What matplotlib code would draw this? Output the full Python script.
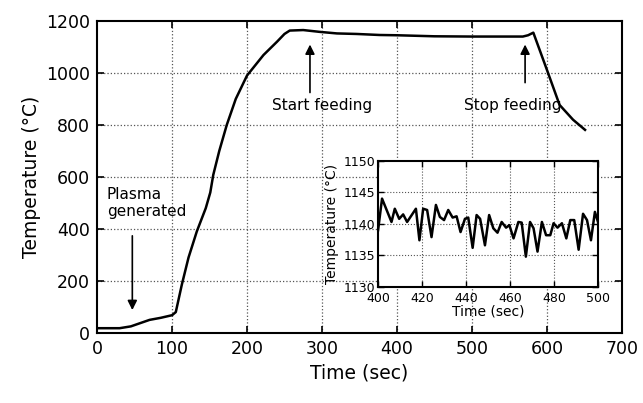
import matplotlib
matplotlib.use("Agg")
import matplotlib.pyplot as plt

plt.rcParams.update({
    "font.family": "DejaVu Sans",
    "xtick.direction": "in",
    "ytick.direction": "in",
    "xtick.top": True,
    "ytick.right": True,
})

# ── main curve ──
t_main = [0, 30, 45, 70, 85, 100, 105, 113, 122, 133, 145, 151, 155, 163, 173,
          185, 200, 222, 240, 250, 257, 275, 297, 320, 346, 377, 400, 450, 500,
          540, 568, 575, 582, 600, 617, 635, 651]
T_main = [18, 18, 25, 50, 58, 68, 80, 185, 290, 390, 480, 540, 608, 700, 800,
          900, 990, 1069, 1120, 1150, 1163, 1165, 1158, 1152, 1150, 1146, 1145,
          1141, 1140, 1140, 1140, 1145, 1155, 1013, 877, 820, 781]

# ── inset: zoom 400-500 s ──
t_zoom = [400, 401.8, 406.1, 407.6, 409.6, 411.4, 413.2, 417.2, 418.8, 420.5,
          422.3, 424.3, 426.3, 428.1, 430, 431.9, 433.9, 435.7, 437.5, 439.5,
          441.0, 443.0, 444.8, 446.4, 448.6, 450.5, 452.4, 454.3, 456.2, 458.2,
          459.7, 461.6, 463.8, 465.3, 467.2, 469.1, 470.7, 472.5, 474.5, 476.4,
          478.3, 479.8, 481.6, 483.6, 485.6, 487.4, 489.2, 491.2, 493.2, 495,
          496.8, 498.6, 500]
T_zoom = [1139.0, 1144.0, 1140.3, 1142.4, 1140.8, 1141.5, 1140.3, 1142.4, 1137.4,
          1142.4, 1142.2, 1137.9, 1143.0, 1141.1, 1140.6, 1142.2, 1141.0, 1141.2,
          1138.7, 1140.8, 1141.0, 1136.2, 1141.4, 1140.8, 1136.6, 1141.4, 1139.3,
          1138.6, 1140.3, 1139.4, 1139.8, 1137.7, 1140.3, 1140.2, 1134.8, 1140.3,
          1139.3, 1135.6, 1140.3, 1138.2, 1138.2, 1140.1, 1139.4, 1140.1, 1137.7,
          1140.6, 1140.6, 1135.9, 1141.6, 1140.6, 1137.4, 1141.9, 1140.3]

fig = plt.figure(figsize=(6.43, 4.03), dpi=100)
ax = fig.add_axes([0.151, 0.174, 0.816, 0.774])

ax.plot(t_main, T_main, color="black", linewidth=1.8)
ax.set_xlim(0, 700)
ax.set_ylim(0, 1200)
ax.set_xticks(range(0, 701, 100))
ax.set_yticks(range(0, 1201, 200))
ax.tick_params(labelsize=12.5, length=5, width=1.2, pad=5)
for s in ax.spines.values():
    s.set_linewidth(1.5)
for x in range(100, 700, 100):
    ax.axvline(x, color="#555555", linestyle=":", linewidth=0.9, zorder=0)
for y in range(200, 1200, 200):
    ax.axhline(y, color="#555555", linestyle=":", linewidth=0.9, zorder=0)
ax.set_xlabel("Time (sec)", fontsize=13.5)
ax.set_ylabel("Temperature (\u00b0C)", fontsize=13.5)

arrow = dict(arrowstyle="-|>", color="black", lw=1.2, mutation_scale=14)
ax.annotate("", xy=(47, 77), xytext=(47, 384), arrowprops=arrow)
ax.text(13, 500, "Plasma\ngenerated", fontsize=11, ha="left", va="center",
        linespacing=1.1)
ax.annotate("", xy=(284, 1120), xytext=(284, 914), arrowprops=arrow)
ax.text(300, 876, "Start feeding", fontsize=11, ha="center", va="center")
ax.annotate("", xy=(571, 1120), xytext=(571, 952), arrowprops=arrow)
ax.text(555, 876, "Stop feeding", fontsize=11, ha="center", va="center")

# ── inset ──
ins = fig.add_axes([0.588, 0.288, 0.342, 0.313])
ins.plot(t_zoom, T_zoom, color="black", linewidth=1.8)
ins.set_xlim(400, 500)
ins.set_ylim(1130, 1150)
ins.set_xticks(range(400, 501, 20))
ins.set_yticks(range(1130, 1151, 5))
ins.tick_params(labelsize=9, length=4, width=1.0, pad=2)
ins.tick_params(axis="x", pad=3.5)
for s in ins.spines.values():
    s.set_linewidth(1.5)
for x in range(420, 500, 20):
    ins.axvline(x, color="#555555", linestyle=":", linewidth=0.8, zorder=0)
for y in range(1135, 1150, 5):
    ins.axhline(y, color="#555555", linestyle=":", linewidth=0.8, zorder=0)
ins.set_xlabel("Time (sec)", fontsize=10, labelpad=0)
ins.set_ylabel("Temperature (\u00b0C)", fontsize=10, labelpad=3)

fig.savefig("out.png", dpi=100, facecolor="white")
